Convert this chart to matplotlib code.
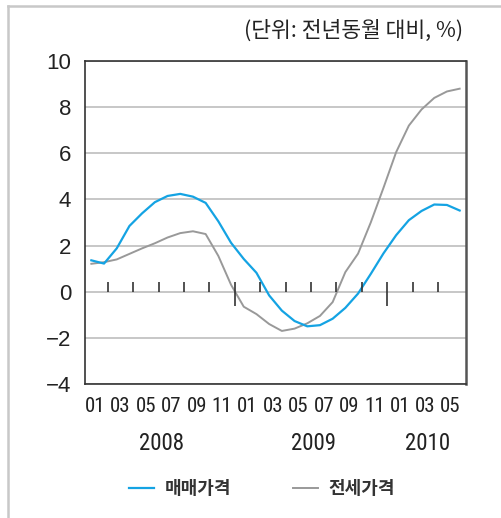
import os
import matplotlib
matplotlib.use("Agg")
import numpy as np
import matplotlib.pyplot as plt
from matplotlib import font_manager as fm
from matplotlib.font_manager import FontProperties
from matplotlib.lines import Line2D
from matplotlib.transforms import ScaledTranslation, blended_transform_factory

# ---- data: year-on-year change (%), monthly ----
months = [
    "2008-01", "2008-02", "2008-03", "2008-04", "2008-05", "2008-06",
    "2008-07", "2008-08", "2008-09", "2008-10", "2008-11", "2008-12",
    "2009-01", "2009-02", "2009-03", "2009-04", "2009-05", "2009-06",
    "2009-07", "2009-08", "2009-09", "2009-10", "2009-11", "2009-12",
    "2010-01", "2010-02", "2010-03", "2010-04", "2010-05", "2010-06",
]
sale_price = [
    1.36, 1.22, 1.88, 2.85, 3.40, 3.88, 4.15, 4.24, 4.12, 3.85,
    3.05, 2.12, 1.42, 0.82, -0.16, -0.82, -1.27, -1.50, -1.45, -1.17,
    -0.70, -0.08, 0.77, 1.66, 2.45, 3.10, 3.50, 3.78, 3.76, 3.52,
]
jeonse_price = [
    1.21, 1.28, 1.40, 1.64, 1.88, 2.10, 2.35, 2.54, 2.62, 2.50,
    1.55, 0.30, -0.65, -0.97, -1.40, -1.70, -1.60, -1.37, -1.05, -0.45,
    0.85, 1.65, 3.00, 4.50, 6.05, 7.20, 7.90, 8.40, 8.68, 8.80,
]
series_names = ["매매가격", "전세가격"]
unit_note = "(단위: 전년동월 대비, %)"
y_ticks = [-4, -2, 0, 2, 4, 6, 8, 10]

# ---- fonts ----
installed = {f.name for f in fm.fontManager.ttflist}
SANS = "Liberation Sans" if "Liberation Sans" in installed else "DejaVu Sans"
KR = "Noto Sans CJK KR"
TXT = "#222222"
font_files = {os.path.basename(f.fname): f.fname for f in fm.fontManager.ttflist}


def narrow_font(preferred, size):
    """Return FontProperties for the first available narrow face."""
    for base in preferred:
        if base in font_files:
            return FontProperties(fname=font_files[base], size=size)
    return FontProperties(family=SANS, size=size)


month_font = narrow_font(["NotoSans-ExtraCondensed.ttf", "NotoSans-Condensed.ttf",
                          "LiberationSansNarrow-Regular.ttf", "RobotoCondensed-Regular.ttf",
                          "DejaVuSansCondensed.ttf"], 15)
year_font = narrow_font(["NotoSans-SemiCondensed.ttf", "NotoSans-Condensed.ttf",
                         "LiberationSansNarrow-Regular.ttf", "RobotoCondensed-Regular.ttf",
                         "DejaVuSansCondensed.ttf"], 16.5)

fig = plt.figure(figsize=(5.02, 5.18), dpi=100)
ax = fig.add_axes([85 / 502, 1 - 384 / 518, 381 / 502, 323 / 518])

x = np.arange(len(months))
l1, = ax.plot(x, sale_price, color="#14a3e3", lw=1.6, solid_joinstyle="round",
              label=series_names[0], zorder=4)
l2, = ax.plot(x, jeonse_price, color="#999999", lw=1.4, solid_joinstyle="round",
              label=series_names[1], zorder=3)

ax.set_xlim(-0.5, len(months) - 0.5)
ax.set_ylim(y_ticks[0], y_ticks[-1])

# horizontal grid
ax.set_yticks(y_ticks)
ax.set_yticklabels([f"{v}".replace("-", "\u2212") for v in y_ticks],
                   fontfamily=SANS, fontsize=16, color=TXT)
ax.yaxis.grid(True, color="#b8b8b8", lw=1.1)
ax.set_axisbelow(True)
ax.tick_params(axis="y", length=0, pad=10)

# month labels every two months
shift = ScaledTranslation(3.7 / 100, 0, fig.dpi_scale_trans)
label_idx = x[::2]
ax.set_xticks(label_idx)
ax.set_xticklabels([months[i][5:] for i in label_idx], color=TXT)
ax.tick_params(axis="x", length=0, pad=9)
for lbl in ax.get_xticklabels():
    lbl.set_fontproperties(month_font)
    lbl.set_transform(lbl.get_transform() + shift)

# small tick marks sitting on the zero line, longer at year ends
mark_idx = x[1:-2:2]
for i in mark_idx:
    long_mark = months[i].endswith("-12")
    ax.vlines(i, -0.6 if long_mark else 0, 0.42, colors="#333333", lw=1.2,
              transform=ax.transData + shift, zorder=5)

# year labels centred under their months
years = sorted({m[:4] for m in months})
year_tr = blended_transform_factory(ax.transData, fig.transFigure)
for yr in years:
    idx = [i for i, m in enumerate(months) if m.startswith(yr)]
    fig.text(np.mean(idx), 1 - 444 / 518, yr, transform=year_tr,
             ha="center", va="center", fontproperties=year_font, color=TXT)

for side, sp in ax.spines.items():
    sp.set_color("#333333")
    sp.set_linewidth(1.2)
ax.spines["right"].set_linewidth(1.8)
ax.spines["right"].set_color("#555555")

# unit note
fig.text(463 / 502, 1 - 31 / 518, unit_note, ha="right", va="center",
         fontfamily=KR, fontsize=15.5, color=TXT)

# legend
fig.legend([l1, l2], series_names, loc="center",
           bbox_to_anchor=(0.522, 1 - 489 / 518), ncol=2, frameon=False,
           handlelength=1.4, handletextpad=0.6, columnspacing=3.4,
           prop=FontProperties(family=KR, size=13, weight="bold"),
           labelcolor="#333333")

# outer panel border (top and left edges)
fig.add_artist(Line2D([8 / 502, 1], [1 - 6 / 518] * 2, transform=fig.transFigure,
                      color="#c8c8c8", lw=1.8))
fig.add_artist(Line2D([8 / 502] * 2, [0, 1 - 6 / 518], transform=fig.transFigure,
                      color="#c8c8c8", lw=1.8))

fig.savefig("out.png", dpi=100)
